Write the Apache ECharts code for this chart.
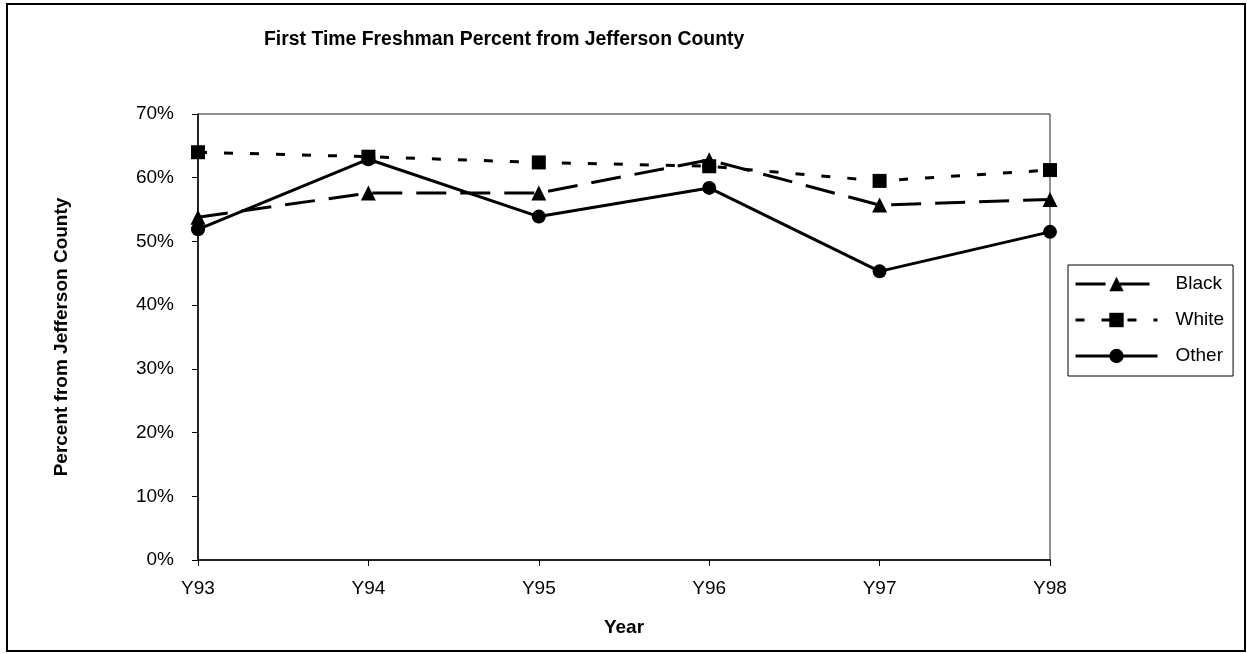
<!DOCTYPE html>
<html>
<head>
<meta charset="utf-8">
<script src="https://cdn.jsdelivr.net/npm/echarts@6/dist/echarts.min.js"></script>
<style>
  html, body { margin: 0; padding: 0; background: #fff; }
  #chart { width: 1247px; height: 654px; }
</style>
</head>
<body>
<div id="chart"></div>
<script>
// Share of first-time freshmen coming from Jefferson County, by group (percent)
const years = ['Y93', 'Y94', 'Y95', 'Y96', 'Y97', 'Y98'];
const blackPct = [53.8, 57.6, 57.6, 62.8, 55.7, 56.6];
const whitePct = [64.0, 63.3, 62.4, 61.8, 59.5, 61.2];
const otherPct = [51.9, 62.9, 53.9, 58.4, 45.3, 51.5];

const FONT = '"Liberation Sans", Arial, sans-serif';

const chart = echarts.init(document.getElementById('chart'), null, { renderer: 'canvas' });

function lineSeries(name, data, symbol, size, dash) {
  return {
    name: name,
    type: 'line',
    data: data,
    symbol: symbol,
    symbolSize: size,
    showSymbol: true,
    animation: false,
    itemStyle: { color: '#000' },
    lineStyle: { color: '#000', width: 3, type: dash },
    z: 3
  };
}

chart.setOption({
  backgroundColor: '#fff',
  animation: false,
  title: {
    text: 'First Time Freshman Percent from Jefferson County',
    left: 264,
    top: 30,
    padding: 0,
    textStyle: { fontFamily: FONT, fontSize: 19.4, fontWeight: 'bold', color: '#000' }
  },
  graphic: [{
    type: 'rect',
    shape: { x: 7, y: 4, width: 1238, height: 647 },
    style: { fill: 'none', stroke: '#000', lineWidth: 2 },
    silent: true,
    z: -1
  }],
  legend: {
    orient: 'vertical',
    left: 1068,
    top: 265,
    padding: [9, 9, 10, 6],
    itemWidth: 82,
    itemHeight: 18,
    itemGap: 16,
    borderColor: '#000',
    borderWidth: 1,
    lineStyle: { width: 3 },
    textStyle: {
      fontFamily: FONT, fontSize: 19, color: '#000',
      lineHeight: 20, padding: [0, 0, 0, 13]
    },
    data: ['Black', 'White', 'Other']
  },
  grid: {
    left: 198,
    right: 197,
    top: 114,
    bottom: 94,
    show: true,
    borderColor: '#222',
    borderWidth: 1,
    containLabel: false
  },
  xAxis: {
    type: 'category',
    data: years,
    boundaryGap: false,
    name: 'Year',
    nameLocation: 'middle',
    nameGap: 58,
    nameTextStyle: { fontFamily: FONT, fontSize: 19, fontWeight: 'bold', color: '#000' },
    axisLine: { lineStyle: { color: '#000', width: 1.5 } },
    axisTick: { show: true, inside: false, length: 6, lineStyle: { color: '#000', width: 1 } },
    axisLabel: { fontFamily: FONT, fontSize: 19, color: '#000', margin: 19 },
    splitLine: { show: false }
  },
  yAxis: {
    type: 'value',
    min: 0,
    max: 70,
    interval: 10,
    name: 'Percent from Jefferson County',
    nameLocation: 'middle',
    nameRotate: 90,
    nameGap: 127,
    nameTextStyle: { fontFamily: FONT, fontSize: 19, fontWeight: 'bold', color: '#000' },
    axisLine: { show: true, lineStyle: { color: '#000', width: 1.5 } },
    axisTick: { show: true, inside: false, length: 6, lineStyle: { color: '#000', width: 1 } },
    axisLabel: { fontFamily: FONT, fontSize: 19, color: '#000', margin: 24, formatter: '{value}%' },
    splitLine: { show: false }
  },
  series: [
    lineSeries('Black', blackPct, 'triangle', 15, [30, 14]),
    lineSeries('White', whitePct, 'rect', 14, [9, 17]),
    lineSeries('Other', otherPct, 'circle', 14, 'solid')
  ]
});
</script>
</body>
</html>
